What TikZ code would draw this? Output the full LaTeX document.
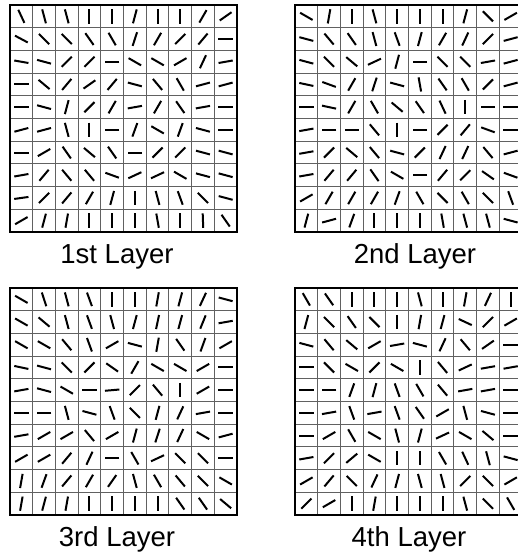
\documentclass[tikz,border=0pt]{standalone}
\usepackage{fontspec}
\setmainfont{Liberation Sans}
\usetikzlibrary{calc}
\tikzset{cell/.style={draw=black!62,line width=1pt},
  frame/.style={draw=black,line width=1.2pt},
  needle/.style={draw=black,line width=2pt},
  layer/.style={font=\fontsize{27.5}{32}\selectfont,inner sep=0pt,anchor=base}}
% one orientation map: x, y of top left corner, 100 angles row by row
\newcommand{\orimap}[3]{%
  \begin{scope}[shift={(#1,#2)}]
  \foreach \k in {0,...,10}
    \draw[cell] (\k*22.7,0)--(\k*22.7,227) (0,\k*22.7)--(227,\k*22.7);
  \draw[frame] (0,0) rectangle (227,227);
  \foreach \a [count=\n from 0] in {#3}{
    \pgfmathsetmacro\cx{mod(\n,10)*22.7+11.35}
    \pgfmathsetmacro\cy{int(\n/10)*22.7+11.35}
    \draw[needle] (\cx,\cy) ++(-\a:7.2) -- ++(180-\a:14.4);}
  \end{scope}}

\begin{document}
\begin{tikzpicture}[x=1pt,y=-1pt]
\useasboundingbox (0,0) rectangle (517,556);
\orimap{10}{5}{115,105,105,90,90,75,90,90,60,35,
  152,135,135,125,120,72,60,45,50,0,
  170,165,45,45,0,150,150,30,65,10,
  0,140,50,35,50,165,130,120,15,15,
  0,165,75,45,60,10,60,125,10,0,
  15,15,105,90,0,70,150,70,165,0,
  0,30,125,140,125,0,45,45,165,165,
  10,50,130,130,160,25,25,150,165,165,
  8,45,50,60,75,90,105,110,135,165,
  30,75,80,90,90,90,100,90,92,125}
\orimap{295}{5}{150,80,90,105,90,90,90,75,135,30,
  165,130,125,105,110,75,60,65,45,15,
  165,135,140,25,75,0,135,135,10,15,
  168,160,60,72,165,100,125,120,45,15,
  0,168,60,120,140,125,115,90,0,0,
  10,0,0,130,90,0,45,50,160,0,
  10,45,140,130,165,45,65,65,130,15,
  10,50,50,125,150,0,50,45,145,160,
  30,60,60,60,70,120,135,120,135,110,
  75,15,70,90,90,90,100,105,105,165}
\orimap{10}{288}{150,108,105,110,90,90,80,75,65,165,
  150,140,105,110,105,75,78,75,68,10,
  150,150,130,110,30,165,80,125,70,30,
  168,165,135,45,145,60,150,150,30,0,
  10,165,150,0,5,45,130,90,30,0,
  0,0,105,165,110,135,75,65,10,0,
  10,30,30,130,30,75,72,65,150,15,
  30,30,50,65,0,120,25,135,135,0,
  80,70,50,60,55,105,120,130,135,150,
  80,75,80,90,90,90,90,125,125,140}
\orimap{295}{288}{120,125,90,90,90,105,90,80,65,90,
  75,135,125,135,90,80,75,155,45,30,
  165,130,140,30,10,165,65,130,35,0,
  0,135,150,45,150,90,130,25,10,10,
  0,0,70,75,110,120,130,10,10,0,
  0,10,110,10,110,125,30,105,165,0,
  0,30,120,150,105,75,25,150,140,0,
  10,45,40,150,90,90,120,115,105,165,
  30,50,135,65,75,105,105,45,135,30,
  45,30,90,80,90,90,90,105,135,120}
\node[layer] (lay1) at (117,263) {1st Layer};
\node[layer] (lay2) at (415,263) {2nd Layer};
\node[layer] (lay3) at (117,546) {3rd Layer};
\node[layer] (lay4) at (409,546) {4th Layer};
\end{tikzpicture}
\end{document}
